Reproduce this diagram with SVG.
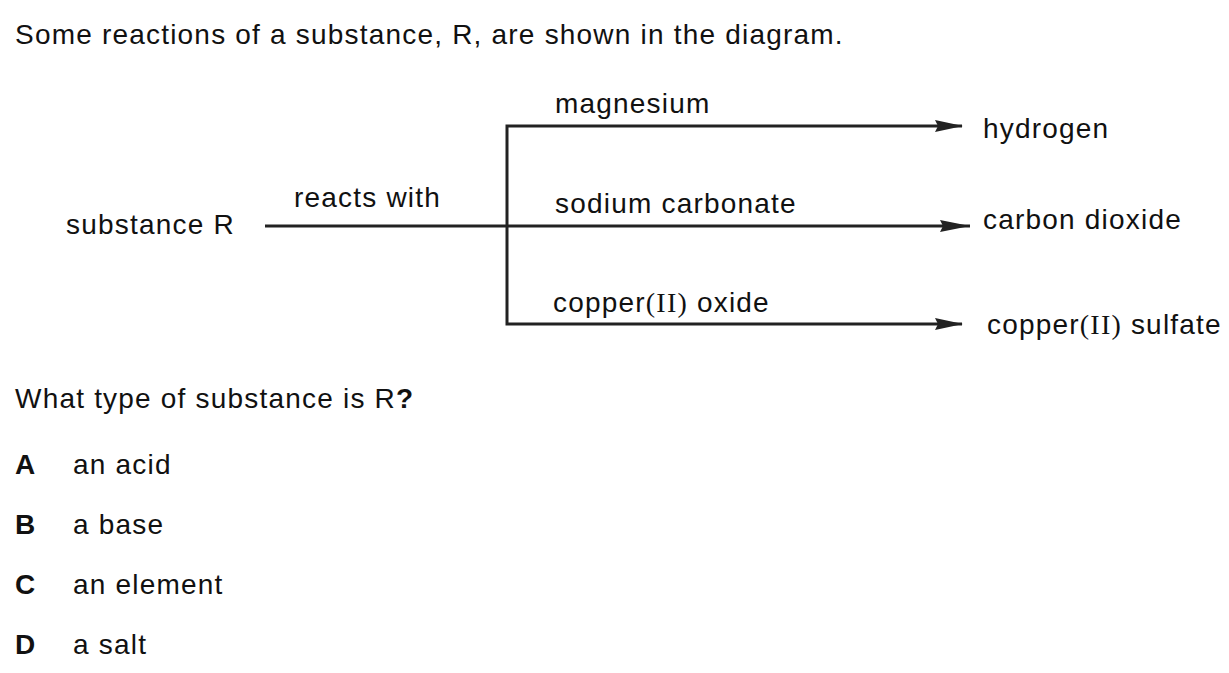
<svg xmlns="http://www.w3.org/2000/svg" width="1229" height="673" viewBox="0 0 1229 673">
<style>
text{font-family:"Liberation Sans",Arial,sans-serif;font-size:28px;letter-spacing:1.2px;fill:#111}
.r{font-family:"Liberation Serif","Times New Roman",serif}
.b{font-weight:bold}
.ln{stroke:#222;stroke-width:3;fill:none}
</style>
<defs>
<marker id="ah" markerWidth="32" markerHeight="14" refX="30" refY="7" orient="auto" markerUnits="userSpaceOnUse">
<path d="M0,1 L30,7 L0,13 L3,7 Z" fill="#222"/>
</marker>
</defs>
<rect width="1229" height="673" fill="#fff"/>
<text x="15" y="44">Some reactions of a substance, R, are shown in the diagram.</text>
<g id="connectors">
<line class="ln" x1="265" y1="226" x2="970" y2="226" marker-end="url(#ah)"/>
<polyline class="ln" points="962,126 507,126 507,324 962,324"/>
<path d="M935,120 L963,126 L935,132 L938,126 Z" fill="#222"/>
<path d="M935,318 L963,324 L935,330 L938,324 Z" fill="#222"/>
</g>
<g id="substanceR"><text x="66" y="234">substance R</text></g>
<g id="reactsWith"><text x="294" y="207">reacts with</text></g>
<g id="magnesium"><text x="555" y="113">magnesium</text></g>
<g id="sodiumCarbonate"><text x="555" y="213">sodium carbonate</text></g>
<g id="copperOxide"><text x="553" y="312">copper<tspan class="r">(II)</tspan> oxide</text></g>
<g id="hydrogen"><text x="983" y="138">hydrogen</text></g>
<g id="carbonDioxide"><text x="983" y="229">carbon dioxide</text></g>
<g id="copperSulfate"><text x="987" y="334">copper<tspan class="r">(II)</tspan> sulfate</text></g>
<text x="15" y="408">What type of substance is R<tspan class="b">?</tspan></text>
<text class="b" x="15" y="474">A</text><text x="73" y="474">an acid</text>
<text class="b" x="15" y="534">B</text><text x="73" y="534">a base</text>
<text class="b" x="15" y="594">C</text><text x="73" y="594">an element</text>
<text class="b" x="15" y="654">D</text><text x="73" y="654">a salt</text>
</svg>
